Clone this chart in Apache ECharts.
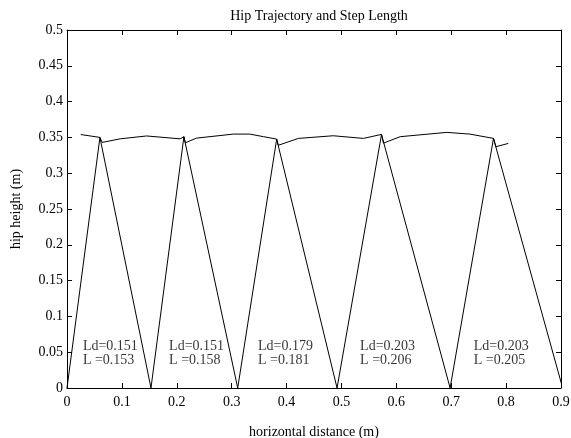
<!DOCTYPE html>
<html>
<head>
<meta charset="utf-8">
<script src="https://cdn.jsdelivr.net/npm/echarts@6/dist/echarts.min.js"></script>
<style>html,body{margin:0;padding:0;background:#fff;}#c{width:571px;height:438px;}</style>
</head>
<body>
<div id="c"></div>
<script>
var hipX = [0.025,0.060,0.064,0.097,0.145,0.206,0.213,0.2155,0.236,0.303,0.333,0.358,0.382,0.385,0.4215,0.485,0.540,0.573,0.5765,0.607,0.692,0.734,0.777,0.7815,0.804];
var hipY = [0.354,0.350,0.343,0.348,0.352,0.348,0.351,0.3425,0.349,0.3546,0.3546,0.351,0.3476,0.339,0.3486,0.3523,0.3486,0.3542,0.342,0.351,0.357,0.3546,0.3486,0.337,0.3416];
var legX = [0,0.060,0.153,0.213,0.311,0.382,0.492,0.573,0.698,0.777,0.903];
var legY = [0,0.350,0,0.351,0,0.3476,0,0.354,0,0.3486,0];
var ldVals = ['0.151','0.151','0.179','0.203','0.203'];
var lVals = ['0.153','0.158','0.181','0.206','0.205'];
var labelX = [0.029,0.186,0.348,0.534,0.741];
var labelY = [0.048,0.048,0.048,0.048,0.048];
var xTicks = [0,0.9,0.1];
var yTicks = [0,0.5,0.05];

var font = 'Liberation Serif';
function pairs(xs, ys){ return xs.map(function(x,i){ return [x, ys[i]]; }); }
var labelData = labelX.map(function(x,i){ return {value:[x,labelY[i]], ld:ldVals[i], l:lVals[i]}; });

var chart = echarts.init(document.getElementById('c'));
function common(){
  return {
    axisLine:{show:true, onZero:false, lineStyle:{color:'#000', width:1}},
    axisTick:{show:true, inside:true, length:5, lineStyle:{color:'#000'}},
    splitLine:{show:false}
  };
}
chart.setOption({
  animation:false,
  backgroundColor:'#fff',
  title:{text:'Hip Trajectory and Step Length', left:314, top:4, textAlign:'center',
    textStyle:{fontFamily:font, fontSize:14, fontWeight:'normal', color:'#000'}},
  grid:{left:67, right:10, top:30, bottom:50, containLabel:false, outerBoundsMode:'none'},
  xAxis:[
    Object.assign({type:'value', min:xTicks[0], max:xTicks[1], interval:xTicks[2], position:'bottom',
      name:'horizontal distance (m)', nameLocation:'middle', nameGap:37,
      nameTextStyle:{fontFamily:font, fontSize:14, color:'#000'},
      axisLabel:{fontFamily:font, fontSize:14, color:'#000', margin:7}}, common()),
    Object.assign({type:'value', min:xTicks[0], max:xTicks[1], interval:xTicks[2], position:'top',
      axisLabel:{show:false}}, common())
  ],
  yAxis:[
    Object.assign({type:'value', min:yTicks[0], max:yTicks[1], interval:yTicks[2], position:'left',
      name:'hip height (m)', nameLocation:'middle', nameGap:44,
      nameTextStyle:{fontFamily:font, fontSize:14, color:'#000'},
      axisLabel:{fontFamily:font, fontSize:14, color:'#000', margin:4}}, common()),
    Object.assign({type:'value', min:yTicks[0], max:yTicks[1], interval:yTicks[2], position:'right',
      axisLabel:{show:false}}, common())
  ],
  series:[
    {type:'line', data:pairs(hipX,hipY), symbol:'none', lineStyle:{color:'#000', width:1}, clip:true},
    {type:'line', data:pairs(legX,legY), symbol:'none', lineStyle:{color:'#000', width:1}, clip:true},
    {type:'scatter', data:labelData, symbolSize:0, silent:true,
      label:{show:true, position:'right', distance:0, fontFamily:font, fontSize:14, color:'#000', lineHeight:14, align:'left',
        formatter:function(p){ return 'Ld=' + p.data.ld + '\nL =' + p.data.l; }}}
  ]
});
</script>
</body>
</html>
